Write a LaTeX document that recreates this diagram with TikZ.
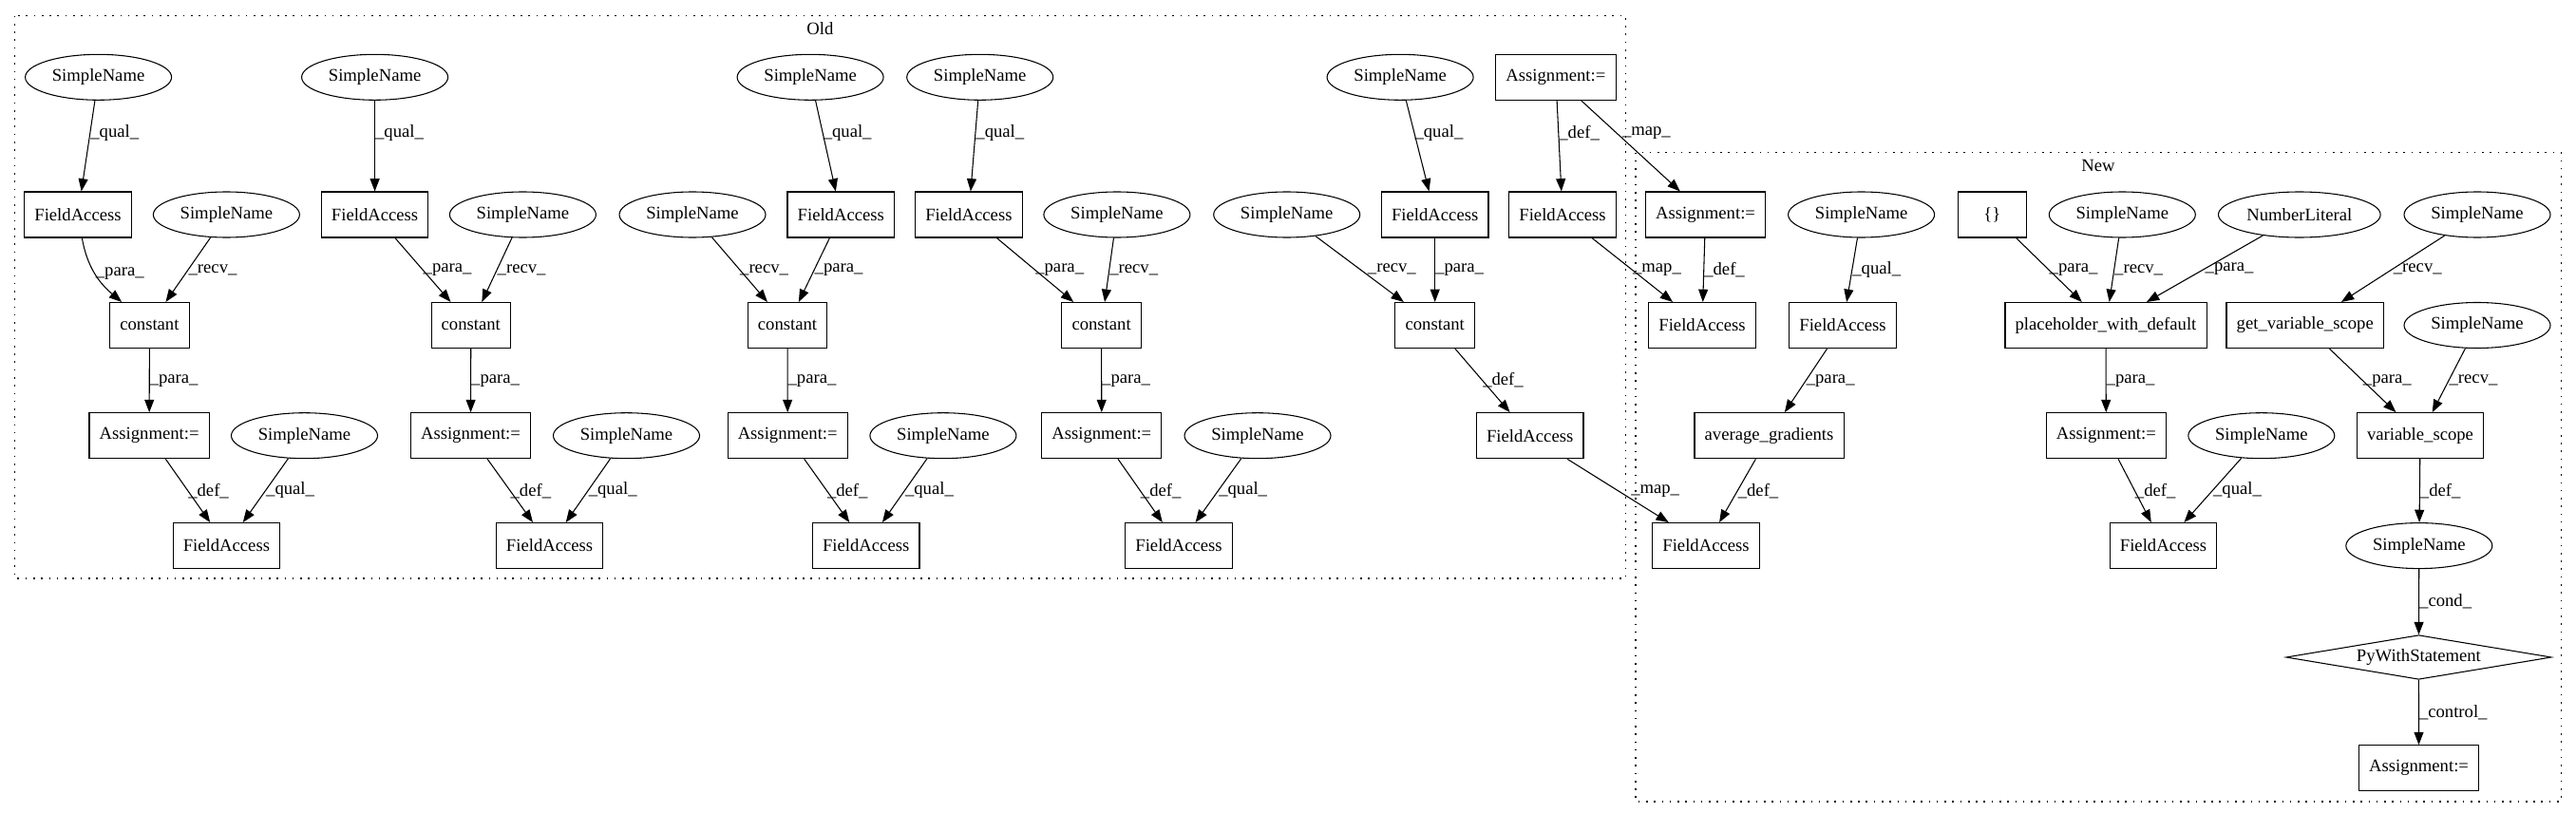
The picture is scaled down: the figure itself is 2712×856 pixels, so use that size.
\documentclass[tikz,border=0pt]{standalone}
\usepackage{fontspec}
\setmainfont{Liberation Serif}
\usetikzlibrary{arrows.meta,shapes.geometric}
\begin{document}
\begin{tikzpicture}[x=0.75pt,y=0.75pt,
    font=\fontsize{14pt}{16pt}\selectfont,
    box/.style={draw,line width=0.8pt,rectangle,minimum height=36pt,minimum width=54pt,inner xsep=8pt,inner ysep=0pt},
    oval/.style={draw,line width=0.8pt,ellipse,minimum height=36pt,minimum width=115.5pt,inner sep=0pt},
    cond/.style={draw,line width=0.8pt,diamond,aspect=6,minimum height=35pt,minimum width=209.5pt,inner sep=0pt},
    edge/.style={line width=0.8pt,-{Triangle[length=10pt,width=7.5pt]}},
    lbl/.style={anchor=west,inner sep=0pt,pos=0.5},
    lbltop/.style={anchor=west,inner sep=0pt,pos=0.36},
    cluster/.style={line width=0.8pt,dash pattern=on 1.2pt off 5pt}]
        \useasboundingbox (0,0) rectangle (2712,-856);
        % clusters
        \draw[cluster] (15.6,-16.7) rectangle (1711.6,-609);
        \node (old) at (863.4,-30.6) {Old};
        \draw[cluster] (1722,-160.6) rectangle (2696,-844);
        \node (new) at (2209,-174.2) {New};
        % old, first row
        \node[oval] (sA) at (103.6,-81.3) {SimpleName};
        \node[oval] (sB) at (394.6,-81.3) {SimpleName};
        \node[oval] (sC) at (853.1,-81.3) {SimpleName};
        \node[oval] (sD) at (1031.7,-81.3) {SimpleName};
        \node[oval] (sE) at (1474.1,-81.3) {SimpleName};
        \node[box] (asgOld) at (1637.9,-81.3) {Assignment:=};
        % second row
        \node[box] (faA) at (82,-226) {FieldAccess};
        \node[oval] (rA) at (238.4,-226) {SimpleName};
        \node[box] (faB) at (394.6,-226) {FieldAccess};
        \node[oval] (rB) at (550.4,-226) {SimpleName};
        \node[oval] (rC) at (729,-226) {SimpleName};
        \node[box] (faC) at (885.3,-226) {FieldAccess};
        \node[box] (faD) at (1019.9,-226) {FieldAccess};
        \node[oval] (rD) at (1175.9,-226) {SimpleName};
        \node[oval] (rE) at (1354.7,-226) {SimpleName};
        \node[box] (faE) at (1510.7,-226) {FieldAccess};
        \node[box] (faM) at (1645,-226) {FieldAccess};
        \node[box] (asgNew) at (1795.5,-226) {Assignment:=};
        \node[oval] (sF) at (1959.6,-226) {SimpleName};
        \node[box] (brace) at (2097.3,-226) {\{\}};
        \node[oval] (sG) at (2234.3,-226) {SimpleName};
        \node[oval,minimum width=128pt] (num) at (2420.8,-226) {NumberLiteral};
        \node[oval] (sH) at (2608,-226) {SimpleName};
        % third row
        \node[box] (cA) at (157.4,-342.5) {constant};
        \node[box] (cB) at (495.8,-342.5) {constant};
        \node[box] (cC) at (829,-342.5) {constant};
        \node[box] (cD) at (1159.6,-342.5) {constant};
        \node[box] (cE) at (1510.7,-342.5) {constant};
        \node[box] (faN) at (1792,-342.5) {FieldAccess};
        \node[box] (faQ) at (1940,-342.5) {FieldAccess};
        \node[box] (phd) at (2217,-342.5) {placeholder\_with\_default};
        \node[box] (gvs) at (2426.7,-342.5) {get\_variable\_scope};
        \node[oval] (sI) at (2608,-342.5) {SimpleName};
        % fourth row
        \node[box] (aA) at (157.1,-458.7) {Assignment:=};
        \node[oval] (qA) at (320.5,-458.7) {SimpleName};
        \node[box] (aB) at (495.5,-458.7) {Assignment:=};
        \node[oval] (qB) at (659.5,-458.7) {SimpleName};
        \node[box] (aC) at (829.2,-458.7) {Assignment:=};
        \node[oval] (qC) at (992.9,-458.7) {SimpleName};
        \node[box] (aD) at (1159.8,-458.7) {Assignment:=};
        \node[oval] (qD) at (1324,-458.7) {SimpleName};
        \node[box] (faF) at (1610.7,-458.7) {FieldAccess};
        \node[box] (avg) at (1862.5,-458.7) {average\_gradients};
        \node[box] (aE) at (2217.3,-458.7) {Assignment:=};
        \node[oval] (sJ) at (2380.8,-458.7) {SimpleName};
        \node[box] (vs) at (2548,-458.7) {variable\_scope};
        % fifth row and below
        \node[box] (fA) at (238.4,-574.6) {FieldAccess};
        \node[box] (fB) at (578.6,-574.6) {FieldAccess};
        \node[box] (fC) at (911.7,-574.6) {FieldAccess};
        \node[box] (fD) at (1241,-574.6) {FieldAccess};
        \node[box] (faR) at (1796,-574.6) {FieldAccess};
        \node[box] (faS) at (2277.5,-574.6) {FieldAccess};
        \node[oval] (sK) at (2546.8,-574.6) {SimpleName};
        \node[cond] (pws) at (2546.4,-692) {PyWithStatement};
        \node[box] (aF) at (2546.5,-808.7) {Assignment:=};
        % edges, old
        \draw[edge] (sA) -- node[lbltop] (l1) {\_qual\_} (faA);
        \draw[edge] (faA) to[out=-80,in=140] node[lbl] (l2) {\_para\_} (cA);
        \draw[edge] (rA) -- node[lbl] (l3) {\_recv\_} (cA);
        \draw[edge] (cA) -- node[lbl] (l4) {\_para\_} (aA);
        \draw[edge] (aA) -- node[lbl] (l5) {\_def\_} (fA);
        \draw[edge] (qA) -- node[lbl] (l6) {\_qual\_} (fA);
        \draw[edge] (sB) -- node[lbltop] (l7) {\_qual\_} (faB);
        \draw[edge] (faB) -- node[lbl] (l8) {\_para\_} (cB);
        \draw[edge] (rB) -- node[lbl] (l9) {\_recv\_} (cB);
        \draw[edge] (cB) -- node[lbl] (l10) {\_para\_} (aB);
        \draw[edge] (aB) -- node[lbl] (l11) {\_def\_} (fB);
        \draw[edge] (qB) -- node[lbl] (l12) {\_qual\_} (fB);
        \draw[edge] (sC) -- node[lbltop] (l13) {\_qual\_} (faC);
        \draw[edge] (rC) -- node[lbl] (l14) {\_recv\_} (cC);
        \draw[edge] (faC) -- node[lbl] (l15) {\_para\_} (cC);
        \draw[edge] (cC) -- node[lbl] (l16) {\_para\_} (aC);
        \draw[edge] (aC) -- node[lbl] (l17) {\_def\_} (fC);
        \draw[edge] (qC) -- node[lbl] (l18) {\_qual\_} (fC);
        \draw[edge] (sD) -- node[lbltop] (l19) {\_qual\_} (faD);
        \draw[edge] (faD) -- node[lbl] (l20) {\_para\_} (cD);
        \draw[edge] (rD) -- node[lbl] (l21) {\_recv\_} (cD);
        \draw[edge] (cD) -- node[lbl] (l22) {\_para\_} (aD);
        \draw[edge] (aD) -- node[lbl] (l23) {\_def\_} (fD);
        \draw[edge] (qD) -- node[lbl] (l24) {\_qual\_} (fD);
        \draw[edge] (sE) -- node[lbltop] (l25) {\_qual\_} (faE);
        \draw[edge] (rE) -- node[lbl,xshift=6] (l26) {\_recv\_} (cE);
        \draw[edge] (faE) -- node[lbl] (l27) {\_para\_} (cE);
        \draw[edge] (cE) -- node[lbl] (l28) {\_def\_} (faF);
        \draw[edge] (asgOld) -- node[lbltop] (l29) {\_def\_} (faM);
        % edges between old and new
        \draw[edge] (asgOld) -- node[lbltop,xshift=4] (l30) {\_map\_} (asgNew);
        \draw[edge] (faM) -- node[lbl] (l31) {\_map\_} (faN);
        \draw[edge] (faF) -- node[lbl,xshift=10] (l32) {\_map\_} (faR);
        % edges, new
        \draw[edge] (asgNew) -- node[lbl] (l33) {\_def\_} (faN);
        \draw[edge] (sF) -- node[lbl] (l34) {\_qual\_} (faQ);
        \draw[edge] (faQ) -- node[lbl] (l35) {\_para\_} (avg);
        \draw[edge] (avg) -- node[lbl] (l36) {\_def\_} (faR);
        \draw[edge] (brace) -- node[lbl] (l37) {\_para\_} (phd);
        \draw[edge] (sG) -- node[lbl] (l38) {\_recv\_} (phd);
        \draw[edge] (num) -- node[lbl] (l39) {\_para\_} (phd);
        \draw[edge] (sH) -- node[lbl] (l40) {\_recv\_} (gvs);
        \draw[edge] (phd) -- node[lbl] (l41) {\_para\_} (aE);
        \draw[edge] (gvs) -- node[lbl] (l42) {\_para\_} (vs);
        \draw[edge] (sI) -- node[lbl] (l43) {\_recv\_} (vs);
        \draw[edge] (aE) -- node[lbl] (l44) {\_def\_} (faS);
        \draw[edge] (sJ) -- node[lbl] (l45) {\_qual\_} (faS);
        \draw[edge] (vs) -- node[lbl] (l46) {\_def\_} (sK);
        \draw[edge] (sK) -- node[lbl] (l47) {\_cond\_} (pws);
        \draw[edge] (pws) -- node[lbl] (l48) {\_control\_} (aF);
\end{tikzpicture}
\end{document}
